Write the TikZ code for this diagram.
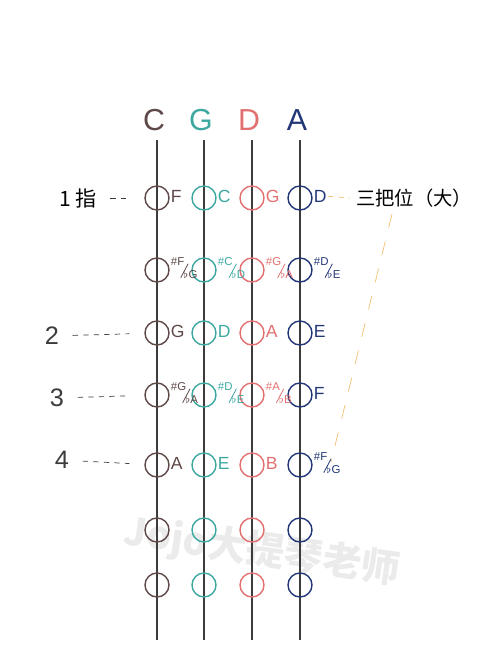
\documentclass[tikz,border=0pt]{standalone}
\usepackage{fontspec}
\setmainfont{Liberation Sans}
\newfontfamily\cjk{Noto Sans CJK SC}
\usepackage{tikz}
\usetikzlibrary{positioning}
\definecolor{vcC}{RGB}{95,72,72}
\definecolor{vcG}{RGB}{60,168,160}
\definecolor{vcD}{RGB}{226,112,112}
\definecolor{vcA}{RGB}{35,55,120}
\definecolor{vcGray}{RGB}{60,60,60}
\definecolor{vcOrange}{RGB}{240,190,110}
\newcommand{\acc}[2]{\fontsize{6.5}{7}\selectfont\raisebox{1ex}{\##1}\kern-2.2pt\rlap{\raisebox{-1ex}{\rotatebox{62}{\rule{9pt}{0.45pt}}}}\kern1.6pt\raisebox{-1.1ex}{$\flat$#2}}

\tikzset{
  fing/.style={circle, line width=0.8pt, minimum size=0.48cm, inner sep=0pt},
  notelab/.style={anchor=west, inner sep=0.5pt, font=\normalsize},
  fingline/.style={vcGray, dashed, thin, shorten <=0.15cm, shorten >=0.3cm}
}

\begin{document}
\begin{tikzpicture}[x=0.02cm, y=-0.02cm]
  \useasboundingbox (0,0) rectangle (500,667);

  % watermark
  \node[rotate=-8, text=black!8, font=\cjk\fontsize{22}{24}\selectfont\bfseries] (wm) at (262,552) {Jojo大提琴老师};

  % strings and finger circles
  \foreach \s/\x/\col in {C/157/vcC, G/204/vcG, D/252/vcD, A/300/vcA} {
    \node[font=\LARGE, text=\col] (t\s) at (\x-3,120) {\s};
    \draw[vcGray, line width=0.6pt] (\x,140) -- (\x,640);
    \foreach \r/\y in {1/198, 2/270, 3/333, 4/395, 5/465, 6/530, 7/585}
      \node[fing, draw=\col] (\s\r) at (\x,\y) {};
  }

  % note names
  \foreach \s/\r/\lab/\col in {C/1/F/vcC, C/2/\acc{F}{G}/vcC, C/3/G/vcC, C/4/\acc{G}{A}/vcC, C/5/A/vcC,
      G/1/C/vcG, G/2/\acc{C}{D}/vcG, G/3/D/vcG, G/4/\acc{D}{E}/vcG, G/5/E/vcG,
      D/1/G/vcD, D/2/\acc{G}{A}/vcD, D/3/A/vcD, D/4/\acc{A}{B}/vcD, D/5/B/vcD,
      A/1/D/vcA, A/2/\acc{D}{E}/vcA, A/3/E/vcA, A/4/F/vcA, A/5/\acc{F}{G}/vcA}
    \node[notelab, text=\col] (\s\r lab) at ([yshift=1pt]\s\r.east) {\lab};

  % fingers
  \node[font=\large] (f1) at (78,198) {\cjk 1 指};
  \node[font=\Large, text=vcGray] (f2) at (52,336) {2};
  \node[font=\Large, text=vcGray] (f3) at (57,398) {3};
  \node[font=\Large, text=vcGray] (f4) at (62,460) {4};
  \draw[fingline] (f1) -- (C1);
  \draw[fingline] (f2) -- (C3);
  \draw[fingline] (f3) -- (C4);
  \draw[fingline] (f4) -- (C5);

  % third position
  \node[font=\cjk\fontsize{11}{13}\selectfont, anchor=west] (pos) at (350,198) {三把位（大）};
  \coordinate (posstart) at (392,214);
  \coordinate (posend) at (331,462);
  \draw[vcOrange, dashed, thin] (A1lab.east) -- (pos.west);
  \draw[vcOrange, dashed, thin, dash pattern=on 8pt off 8pt] (posstart) -- (posend);
\end{tikzpicture}
\end{document}
